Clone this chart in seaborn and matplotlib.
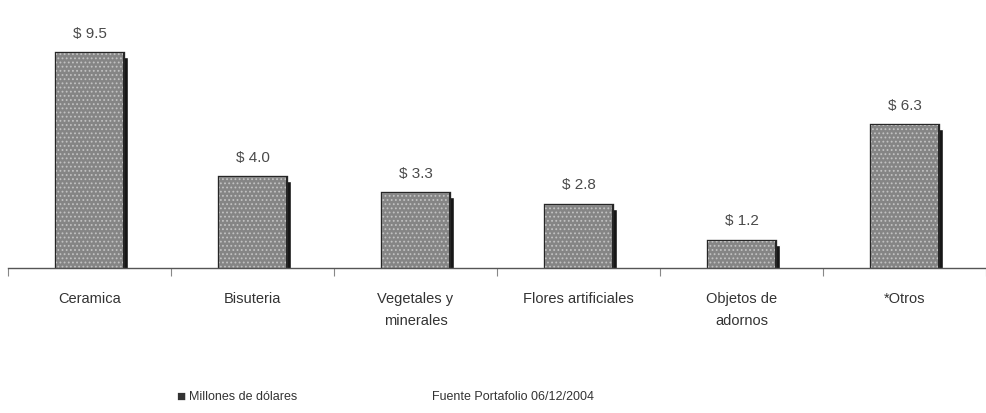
import numpy as np
import pandas as pd
import matplotlib
matplotlib.use('Agg')
import matplotlib.pyplot as plt
import matplotlib.patheffects as pe
from matplotlib.transforms import offset_copy
import seaborn as sns

categorias = ['Ceramica', 'Bisuteria', 'Vegetales y\nminerales', 'Flores artificiales',
              'Objetos de\nadornos', '*Otros']
valores = [9.5, 4.0, 3.3, 2.8, 1.2, 6.3]
etiquetas = ['$ 9.5', '$ 4.0', '$ 3.3', '$ 2.8', '$ 1.2', '$ 6.3']

df = pd.DataFrame({'Categoria': categorias, 'Millones': valores})

sns.set_style('white')
plt.rcParams['font.family'] = ['Liberation Sans', 'DejaVu Sans']
plt.rcParams['hatch.linewidth'] = 0.8

fig = plt.figure(figsize=(9.86, 4.13), dpi=100)
ax = fig.add_axes([8 / 986, 145 / 413, 978 / 986, 268 / 413])

# sombra negra desplazada
sombra = offset_copy(ax.transData, fig=fig, x=5, y=-4, units='dots')
ax.bar(np.arange(len(valores)), valores, width=0.41, color='#161616',
       transform=sombra, zorder=1, clip_on=True)

sns.barplot(x='Categoria', y='Millones', data=df, ax=ax, width=0.41,
            color='#858585', edgecolor='#c2c2c2', linewidth=0, hatch='....',
            saturation=1, zorder=2)

for p in ax.patches[len(valores):]:
    p.set_path_effects([
        pe.Stroke(linewidth=2.4, foreground='#262626'),
        pe.Normal(),
    ])

# valores encima de las barras
for i, v in enumerate(valores):
    ax.text(i, v + 0.55, etiquetas[i], ha='center', va='bottom', fontsize=11, color='#4a4a4a')

ax.set_xlim(-0.5, 5.5)
ax.set_ylim(0, 268 / 22.63)
ax.set_xlabel('')
ax.set_ylabel('')
ax.set_yticks([])
ax.set_xticklabels(categorias, fontsize=10.5, color='#333333', linespacing=1.75)
ax.tick_params(axis='x', which='major', length=0, pad=17)
ax.set_xticks(np.arange(-0.5, 6.0, 1.0), minor=True)
ax.tick_params(axis='x', which='minor', bottom=True, length=6, width=0.8,
               color='#888888', direction='out')

for s in ['top', 'right', 'left']:
    ax.spines[s].set_visible(False)
ax.spines['bottom'].set_color('#555555')
ax.spines['bottom'].set_linewidth(1.0)
ax.spines['bottom'].set_zorder(3)

# leyenda y fuente
fig.text(176 / 986, 1 - 397 / 413, '\u25a0', fontsize=11, color='#333333', va='center', ha='left')
fig.text(189 / 986, 1 - 397 / 413, 'Millones de dólares', fontsize=9, color='#333333', va='center', ha='left')
fig.text(432 / 986, 1 - 397 / 413, 'Fuente Portafolio 06/12/2004', fontsize=9, color='#333333', va='center', ha='left')

plt.savefig('out.png', dpi=100, facecolor='white')
